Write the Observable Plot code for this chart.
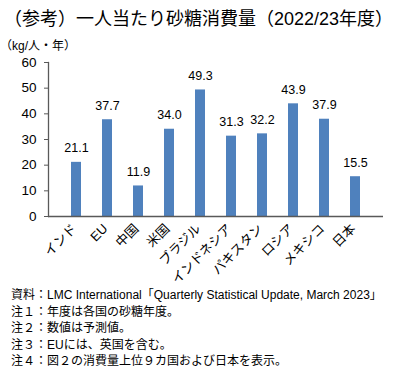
<!DOCTYPE html>
<html><head><meta charset="utf-8">
<script src="https://cdn.jsdelivr.net/npm/d3@7"></script>
<script src="https://cdn.jsdelivr.net/npm/@observablehq/plot@0.6"></script>
<style>
body{margin:0;background:#fff;font-family:"Liberation Sans","Noto Sans CJK JP",sans-serif;}
#wrap{position:relative;width:400px;height:371px;overflow:hidden;}
#title{position:absolute;left:4px;top:4px;font-size:18px;color:#000;white-space:nowrap;}
#unit{position:absolute;left:0px;top:36px;font-size:12px;color:#000;white-space:nowrap;}
#foot{position:absolute;left:11px;top:287px;font-size:12px;line-height:16.5px;color:#000;white-space:nowrap;}
#chart{position:absolute;left:0;top:0;}
</style></head>
<body><div id="wrap"><div id="chart"></div>
<div id="title">（参考）一人当たり砂糖消費量（2022/23年度）</div>
<div id="unit">（kg/人・年）</div>
<div id="foot"></div></div>
<script>
const countries = ["インド","EU","中国","米国","ブラジル","インドネシア","パキスタン","ロシア","メキシコ","日本"];
const values = [21.1,37.7,11.9,34.0,49.3,31.3,32.2,43.9,37.9,15.5];
const yTicks = [0,10,20,30,40,50,60];
const notes = [
 "資料：LMC International「Quarterly Statistical Update, March 2023」",
 "注１：年度は各国の砂糖年度。",
 "注２：数値は予測値。",
 "注３：EUには、英国を含む。",
 "注４：図２の消費量上位９カ国および日本を表示。"
];
const data = countries.map((c,i)=>({c, v: values[i]}));
const chart = Plot.plot({
  width: 400, height: 371,
  marginTop: 62, marginBottom: 155, marginLeft: 48, marginRight: 17,
  style: {fontFamily: '"Liberation Sans","Noto Sans CJK JP",sans-serif', fontSize: "12px", color: "#000"},
  x: {domain: countries, padding: 0.67, label: null},
  y: {domain: [0,60], ticks: yTicks, label: null},
  marks: [
    Plot.barY(data, {x: "c", y: "v", fill: "#4f81bd"}),
    Plot.text(data, {x: "c", y: "v", text: d => d.v.toFixed(1), dy: -14, fontSize: 12.5, fill: "#000"}),
    Plot.ruleY([0], {stroke: "#595959", strokeWidth: 1.3}),
    Plot.frame({anchor: "left", stroke: "#595959", strokeWidth: 1.3}),
    Plot.axisY({ticks: yTicks, tickSize: 4, tickPadding: 8, fontSize: 13.5, stroke: "#595959", label: null}),
    Plot.axisX({tickSize: 0, tickRotate: -45, tickPadding: 10, dx: -2, fontSize: 13, label: null})
  ]
});
document.getElementById("chart").appendChild(chart);
document.getElementById("foot").innerHTML = notes.map(n=>`<div>${n}</div>`).join("");
</script></body></html>
